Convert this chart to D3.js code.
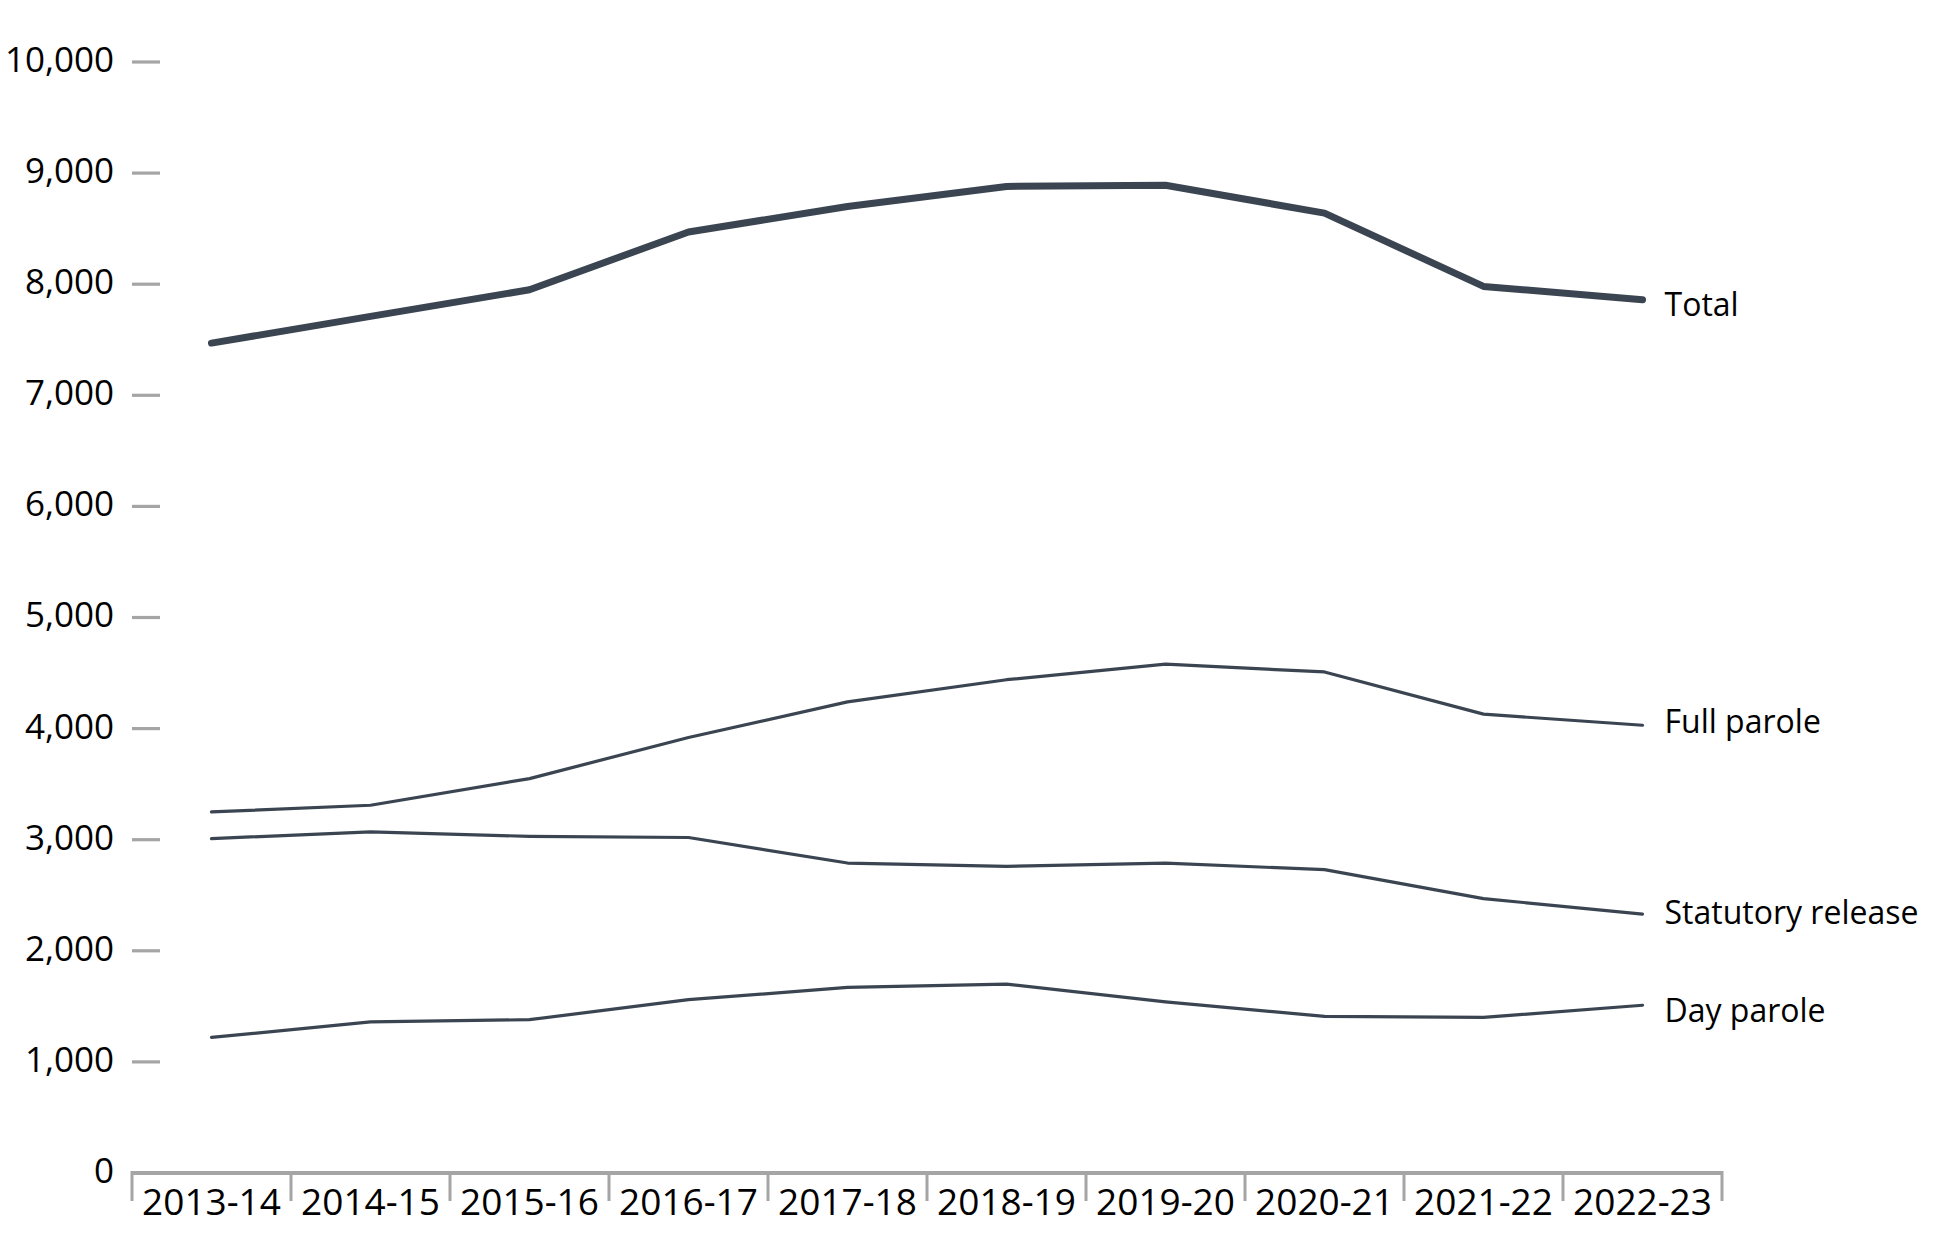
<!DOCTYPE html>
<html>
<head>
<meta charset="utf-8">
<script src="https://cdn.jsdelivr.net/npm/d3@7"></script>
<style>
  html, body { margin: 0; padding: 0; background: #ffffff; }
  svg { display: block; }
</style>
</head>
<body>
<svg id="chart" width="1950" height="1250"></svg>
<script>
const categories = ["2013-14","2014-15","2015-16","2016-17","2017-18","2018-19","2019-20","2020-21","2021-22","2022-23"];
const total            = [7470, 7710, 7950, 8470, 8700, 8880, 8890, 8640, 7980, 7860];
const fullParole       = [3250, 3310, 3550, 3920, 4240, 4440, 4580, 4510, 4130, 4030];
const statutoryRelease = [3010, 3070, 3030, 3020, 2790, 2760, 2790, 2730, 2470, 2330];
const dayParole        = [1220, 1360, 1380, 1560, 1670, 1700, 1540, 1410, 1400, 1510];
const seriesNames = ["Total", "Full parole", "Statutory release", "Day parole"];
const yTicks = [0, 1000, 2000, 3000, 4000, 5000, 6000, 7000, 8000, 9000, 10000];

const seriesValues = [total, fullParole, statutoryRelease, dayParole];
const lineWidths = [7, 3.2, 3.2, 3.2];
const labelNudge = [5, -4, -2, 5];   // small vertical label offsets (px)
const series = seriesNames.map((name, i) => ({ name, values: seriesValues[i], width: lineWidths[i], nudge: labelNudge[i] }));

const svg = d3.select("#chart");
const plotLeft = 132, plotRight = 1722, plotTop = 62, plotBottom = 1173;
const lineColor = "#3b4552";
const axisColor = "#a5a5a5";

const x = d3.scaleBand().domain(categories).range([plotLeft, plotRight]).padding(0);
const y = d3.scaleLinear().domain([0, 10000]).range([plotBottom, plotTop]);

// Y axis: labels
const yAxis = d3.axisLeft(y).tickValues(yTicks).tickSize(0).tickPadding(0)
  .tickFormat(d3.format(","));
const yg = svg.append("g").attr("transform", `translate(${plotLeft - 18},0)`).call(yAxis);
yg.select(".domain").remove();
yg.selectAll("text")
  .attr("font-family", "'Open Sans', sans-serif")
  .attr("font-size", 35)
  .attr("fill", "#000")
  .attr("dy", "0.27em");

// Y tick marks
svg.append("g").selectAll("line").data(yTicks.filter(d => d > 0)).join("line")
  .attr("x1", plotLeft).attr("x2", plotLeft + 28)
  .attr("y1", d => y(d)).attr("y2", d => y(d))
  .attr("stroke", axisColor).attr("stroke-width", 3.2);

// X axis
const xg = svg.append("g");
xg.append("line")
  .attr("x1", plotLeft).attr("x2", plotRight)
  .attr("y1", plotBottom).attr("y2", plotBottom)
  .attr("stroke", axisColor).attr("stroke-width", 4);
const bounds = categories.map(c => x(c)).concat([plotRight]);
xg.selectAll("line.tick").data(bounds).join("line").attr("class", "tick")
  .attr("x1", d => d).attr("x2", d => d)
  .attr("y1", plotBottom - 2).attr("y2", plotBottom + 28)
  .attr("stroke", axisColor).attr("stroke-width", 3);
xg.selectAll("text").data(categories).join("text")
  .attr("x", d => x(d) + x.bandwidth() / 2)
  .attr("y", plotBottom + 42)
  .attr("text-anchor", "middle")
  .attr("font-family", "'Open Sans', sans-serif")
  .attr("font-size", 37)
  .attr("fill", "#000")
  .text(d => d);

// Lines
const line = d3.line()
  .x((d, i) => x(categories[i]) + x.bandwidth() / 2)
  .y(d => y(d));

svg.append("g").selectAll("path").data(series).join("path")
  .attr("d", d => line(d.values))
  .attr("fill", "none")
  .attr("stroke", lineColor)
  .attr("stroke-width", d => d.width)
  .attr("stroke-linecap", "round")
  .attr("stroke-linejoin", "round");

// Series labels
const lastX = x(categories[categories.length - 1]) + x.bandwidth() / 2;
svg.append("g").selectAll("text").data(series).join("text")
  .attr("x", lastX + 22)
  .attr("y", d => y(d.values[d.values.length - 1]) + d.nudge)
  .attr("dy", "0.36em")
  .attr("font-family", "'Open Sans', sans-serif")
  .attr("font-size", 32)
  .attr("fill", "#000")
  .text(d => d.name);
</script>
</body>
</html>
